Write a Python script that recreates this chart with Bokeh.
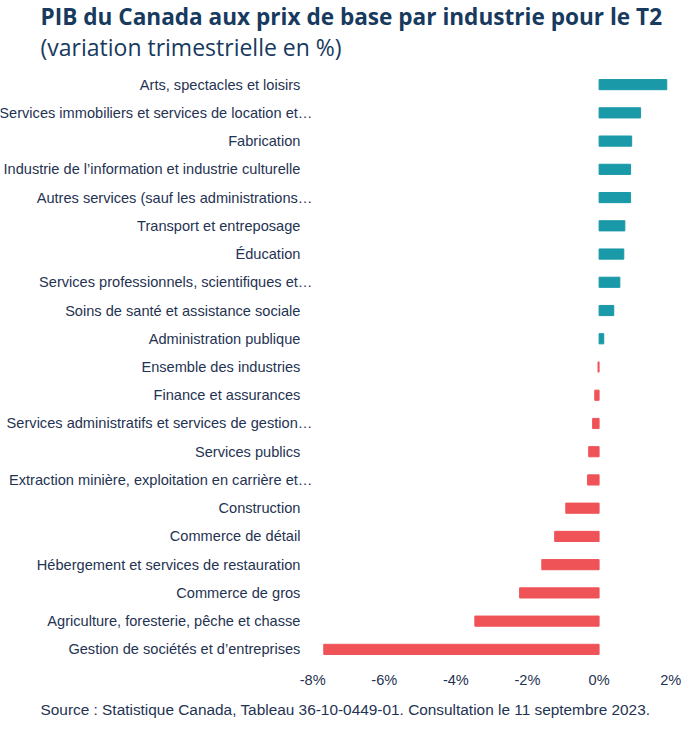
from bokeh.plotting import figure
from bokeh.models import Title, FactorRange, Range1d, FixedTicker, ColumnDataSource
from bokeh.core.properties import value
from bokeh.embed import file_html
from bokeh.resources import INLINE

industries = [
    "Arts, spectacles et loisirs",
    "Services immobiliers et services de location et…",
    "Fabrication",
    "Industrie de l’information et industrie culturelle",
    "Autres services (sauf les administrations…",
    "Transport et entreposage",
    "Éducation",
    "Services professionnels, scientifiques et…",
    "Soins de santé et assistance sociale",
    "Administration publique",
    "Ensemble des industries",
    "Finance et assurances",
    "Services administratifs et services de gestion…",
    "Services publics",
    "Extraction minière, exploitation en carrière et…",
    "Construction",
    "Commerce de détail",
    "Hébergement et services de restauration",
    "Commerce de gros",
    "Agriculture, foresterie, pêche et chasse",
    "Gestion de sociétés et d’entreprises",
]
changes = [1.89, 1.16, 0.91, 0.88, 0.88, 0.72, 0.69, 0.58, 0.41, 0.13,
           -0.03, -0.12, -0.18, -0.29, -0.32, -0.93, -1.24, -1.60, -2.22, -3.47, -7.69]
tick_values = [-8, -6, -4, -2, 0, 2]
tick_labels = ["-8%", "-6%", "-4%", "-2%", "0%", "2%"]

title_text = "PIB du Canada aux prix de base par industrie pour le T2"
subtitle_text = "(variation trimestrielle en %)"
source_text = "Source : Statistique Canada, Tableau 36-10-0449-01. Consultation le 11 septembre 2023."

TEAL = "#1A99A8"
RED = "#EF5358"
NAVY = "#173A5E"
TXT = "#1F3352"

colors = [TEAL if v >= 0 else RED for v in changes]
shift = [12 if s.endswith("…") else 0 for s in industries]
src = ColumnDataSource(dict(ind=industries, val=changes, color=colors, shift=shift))

p = figure(width=688, height=731, output_backend="svg", toolbar_location=None,
           y_range=FactorRange(factors=industries[::-1]),
           x_range=Range1d(-16.72, 2.386), y_axis_location=None,
           min_border_left=0, min_border_right=4, min_border_top=70, min_border_bottom=68)

p.hbar(y="ind", left=0, right="val", height=0.36, color="color", source=src)
p.text(x=-8.343, y="ind", text="ind", x_offset="shift", source=src,
       text_align="right", text_baseline="middle",
       text_font=value("Liberation Sans"), text_font_size="14.6px", text_color=TXT)

p.xaxis.ticker = FixedTicker(ticks=tick_values)
p.xaxis.major_label_overrides = dict(zip(tick_values, tick_labels))
p.xaxis.axis_line_color = None
p.xaxis.major_tick_line_color = None
p.xaxis.minor_tick_line_color = None
p.xaxis.major_tick_out = 0
p.xaxis.major_tick_in = 0
p.xaxis.major_label_standoff = 8
p.xaxis.major_label_text_font = "Liberation Sans"
p.xaxis.major_label_text_font_size = "14.6px"
p.xaxis.major_label_text_color = TXT

p.grid.visible = False
p.outline_line_color = None

p.title.visible = False
sub = Title(text=subtitle_text, text_font="Open Sans", text_font_size="23px",
            text_font_style="normal", text_color=NAVY, align="left", offset=40, standoff=15)
main = Title(text=title_text, text_font="Open Sans", text_font_size="22.6px",
             text_font_style="bold", text_color=NAVY, align="left", offset=40, standoff=-21)
p.add_layout(sub, "above")
p.add_layout(main, "above")

src_title = Title(text=source_text, text_font="Liberation Sans", text_font_size="15.4px",
                  text_font_style="normal", text_color=TXT, align="left", offset=40, standoff=17)
p.add_layout(src_title, "below")

open("out.html", "w").write(file_html(p, INLINE))
